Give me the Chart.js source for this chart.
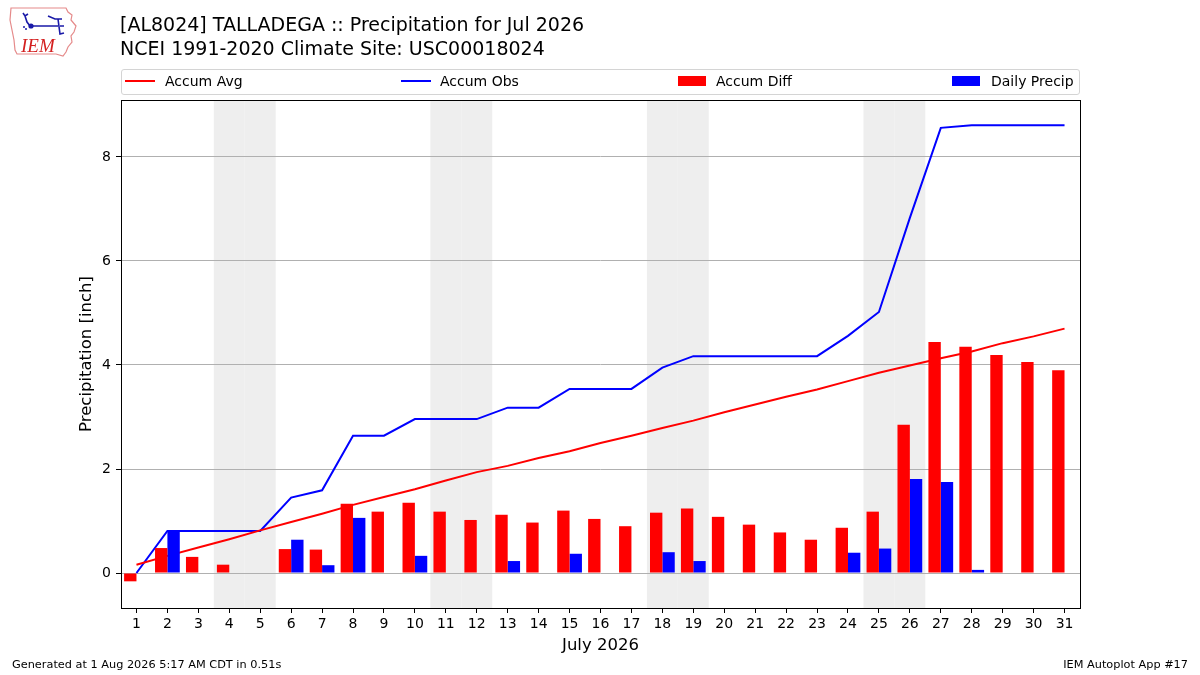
<!DOCTYPE html>
<html><head><meta charset="utf-8">
<script src="https://cdn.jsdelivr.net/npm/chart.js@4.4.0/dist/chart.umd.min.js"></script>
<style>
body{margin:0;background:#fff;font-family:"DejaVu Sans",sans-serif;}
#wrap{position:relative;width:1200px;height:675px;overflow:hidden;background:#fff;}
canvas{position:absolute;left:0;top:0;}
.t{position:absolute;color:#000;white-space:nowrap;}
.sw{position:absolute;}
</style></head><body>
<div id="wrap">
<canvas id="c" width="1200" height="675"></canvas>
<svg style="position:absolute;left:0;top:0" width="90" height="65" viewBox="0 0 90 65">
  <polygon points="11,8 66,8 68,12 72,15 71,20 76,26 74,32 71,36 72,42 68,47 66,52 63,56 56,54 17,54 15,50 14,40 12,30 10,20" fill="none" stroke="#e58a8a" stroke-width="1.2"/>
  <path d="M23,13 L25,16 L28,14 M25,16 L27,22 L30,26 L58,26 M48,16 L55,19 L62,19 M58,19 L60,34 L64,33 M60,26 L64,26" fill="none" stroke="#1a1aa8" stroke-width="1.6"/>
  <circle cx="31" cy="26" r="2.6" fill="#1a1aa8"/>
  <circle cx="24" cy="27" r="1" fill="#1a1aa8"/><circle cx="26" cy="29" r="1" fill="#1a1aa8"/>
  <text x="21" y="52" font-family="Liberation Serif, serif" font-style="italic" font-size="19" fill="#d42020">IEM</text>
</svg>
<div class="t" style="left:120px;top:12px;font-size:19px;line-height:24px">[AL8024] TALLADEGA :: Precipitation for Jul 2026<br>NCEI 1991-2020 Climate Site: USC00018024</div>
<div style="position:absolute;left:121px;top:69px;width:959px;height:26px;box-sizing:border-box;border:1px solid #d4d4d4;border-radius:3px;"></div>
<div class="sw" style="left:125px;top:80px;width:30px;height:2px;background:#ff0000"></div>
<div class="t" style="left:165px;top:72px;font-size:14px;line-height:18px">Accum Avg</div>
<div class="sw" style="left:401px;top:80px;width:30px;height:2px;background:#0000ff"></div>
<div class="t" style="left:440px;top:72px;font-size:14px;line-height:18px">Accum Obs</div>
<div class="sw" style="left:678px;top:76px;width:28px;height:10px;background:#ff0000"></div>
<div class="t" style="left:716px;top:72px;font-size:14px;line-height:18px">Accum Diff</div>
<div class="sw" style="left:952px;top:76px;width:28px;height:10px;background:#0000ff"></div>
<div class="t" style="left:991px;top:72px;font-size:14px;line-height:18px">Daily Precip</div>
<div class="t" style="left:12px;top:658px;font-size:11.3px;line-height:14px">Generated at 1 Aug 2026 5:17 AM CDT in 0.51s</div>
<div class="t" style="right:12px;top:658px;font-size:11.3px;line-height:14px">IEM Autoplot App #17</div>
</div>
<script>
const days = ['1','2','3','4','5','6','7','8','9','10','11','12','13','14','15','16','17','18','19','20','21','22','23','24','25','26','27','28','29','30','31'];
const accumAvg = [0.16,0.33,0.49,0.65,0.82,0.98,1.14,1.31,1.46,1.61,1.78,1.94,2.06,2.21,2.34,2.50,2.64,2.79,2.93,3.09,3.24,3.39,3.53,3.69,3.85,3.99,4.13,4.26,4.42,4.55,4.70];
const accumObs = [0,0.81,0.81,0.81,0.81,1.45,1.59,2.64,2.64,2.96,2.96,2.96,3.18,3.18,3.54,3.54,3.54,3.95,4.17,4.17,4.17,4.17,4.17,4.56,5.02,6.83,8.56,8.61,8.61,8.61,8.61];
const accumDiff = [-0.16,0.48,0.31,0.16,-0.01,0.46,0.45,1.33,1.18,1.35,1.18,1.02,1.12,0.97,1.20,1.04,0.90,1.16,1.24,1.08,0.93,0.78,0.64,0.87,1.18,2.85,4.44,4.35,4.19,4.06,3.90];
const dailyPrecip = [0,0.81,0,0,0,0.64,0.15,1.06,0,0.33,0,0,0.23,0,0.37,0,0,0.40,0.23,0,0,0,0,0.39,0.47,1.81,1.75,0.06,0,0,0];
const weekendDays = ['4','5','11','12','18','19','25','26'];
const yTicks = [0,2,4,6,8];

Chart.defaults.font.family = '"DejaVu Sans", sans-serif';
Chart.defaults.color = '#000';

const bands = {
  id:'bands',
  beforeDraw(chart){
    const {ctx, chartArea:a, scales:{x}} = chart;
    const half = (x.getPixelForValue(1) - x.getPixelForValue(0))/2;
    ctx.save();
    ctx.fillStyle = '#eeeeee';
    weekendDays.forEach(d=>{
      const px = x.getPixelForValue(days.indexOf(d));
      ctx.fillRect(px-half, a.top, half*2, a.bottom-a.top);
    });
    ctx.restore();
  },
  afterDatasetsDraw(chart){
    const {ctx, chartArea:a} = chart;
    ctx.save();
    ctx.strokeStyle = '#000'; ctx.lineWidth = 1;
    ctx.strokeRect(Math.round(a.left)+0.5, Math.round(a.top)+0.5, Math.round(a.right-a.left), Math.round(a.bottom-a.top));
    ctx.restore();
  }
};

new Chart(document.getElementById('c'), {
  data:{
    labels: days,
    datasets:[
      {type:'line', label:'Accum Avg', data:accumAvg, borderColor:'#ff0000', borderWidth:2, pointRadius:0, tension:0, order:2},
      {type:'line', label:'Accum Obs', data:accumObs, borderColor:'#0000ff', borderWidth:2, pointRadius:0, tension:0, order:2},
      {type:'bar', label:'Accum Diff', data:accumDiff, backgroundColor:'#ff0000', categoryPercentage:0.8, barPercentage:1.0, order:1},
      {type:'bar', label:'Daily Precip', data:dailyPrecip, backgroundColor:'#0000ff', categoryPercentage:0.8, barPercentage:1.0, order:1}
    ]
  },
  options:{
    responsive:false, animation:false, devicePixelRatio:1,
    layout:{padding:{left:73, right:120, top:100, bottom:17}},
    plugins:{legend:{display:false}, tooltip:{enabled:false}, title:{display:false}},
    scales:{
      x:{
        type:'category', offset:true,
        grid:{display:true, offset:false, drawOnChartArea:false, drawTicks:true, tickLength:5, tickColor:'#000'},
        border:{display:false},
        ticks:{font:{size:14}, padding:3, maxRotation:0, autoSkip:false},
        title:{display:true, text:'July 2026', font:{size:16.5}, padding:{top:2,bottom:2}},
        afterFit(s){ s.height = 50; }
      },
      y:{
        min:-0.673, max:9.096,
        afterBuildTicks(s){ s.ticks = yTicks.map(v=>({value:v})); },
        grid:{color:'#b0b0b0', lineWidth:1, drawTicks:true, tickLength:5, tickColor:'#000'},
        border:{display:false},
        ticks:{font:{size:14}, padding:5, callback:v=>String(v)},
        title:{display:true, text:'Precipitation [inch]', font:{size:16.5}, padding:{top:4,bottom:4}},
        afterFit(s){ s.width = 48; }
      }
    }
  },
  plugins:[bands]
});
</script>
</body></html>
